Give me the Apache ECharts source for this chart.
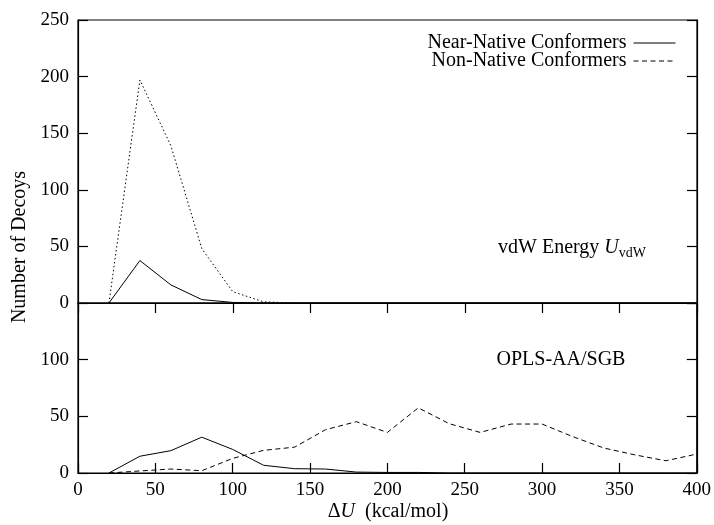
<!DOCTYPE html>
<html>
<head>
<meta charset="utf-8">
<script src="https://cdn.jsdelivr.net/npm/echarts@6/dist/echarts.min.js"></script>
<style>
  html, body { margin: 0; padding: 0; background: #fff; }
  #chart { width: 714px; height: 525px; }
</style>
</head>
<body>
<div id="chart"></div>
<script>
// Energy bins (kcal/mol)
const energies = [20, 40, 60, 80, 100, 120, 140, 160, 180, 200, 220, 240, 260, 280, 300, 320, 340, 360, 380, 400];

// Upper panel: van der Waals energy
const vdwNear    = [0, 37.5, 16, 3, 0.5, 0, 0, 0, 0, 0, 0, 0, 0, 0, 0, 0, 0, 0, 0, 0];
const vdwNonNat  = [0, 197, 139, 48, 10, 1, 0, 0, 0, 0, 0, 0, 0, 0, 0, 0, 0, 0, 0, 0];

// Lower panel: OPLS-AA/SGB energy
const oplsNear   = [0, 14.8, 19.7, 31.6, 20.8, 6.8, 3.8, 3.5, 0.8, 0.5, 0.5, 0, 0, 0, 0, 0, 0, 0, 0, 0];
const oplsNonNat = [0, 1.8, 3.5, 2, 12.9, 20, 22.8, 38.2, 45.3, 35.8, 57.5, 43.5, 35.8, 43.2, 43.2, 32, 22, 16, 10.8, 16.7];

const xTicks = [0, 50, 100, 150, 200, 250, 300, 350, 400];
const yTicksTop = [0, 50, 100, 150, 200, 250];
const yTicksBottom = [0, 50, 100, 150];

const FONT = 'Liberation Serif';
const pairs = (ys) => energies.map((x, i) => [x, ys[i]]);

const chart = echarts.init(document.getElementById('chart'), null, { renderer: 'canvas' });

const frame = { show: true, borderColor: '#000', borderWidth: 1.2, backgroundColor: 'transparent' };
const tick = { show: true, inside: true, length: 10, lineStyle: { color: '#000', width: 1.2 } };
const line = { show: true, lineStyle: { color: '#000', width: 1.2 } };
const label = { color: '#000', fontFamily: FONT, fontSize: 19 };
const clear = 'rgba(0,0,0,0)';

function xAxis(gridIndex, pos, showLabel) {
  return {
    type: 'value', gridIndex, position: pos,
    min: xTicks[0], max: xTicks[xTicks.length - 1], interval: xTicks[1] - xTicks[0],
    axisLine: line, axisTick: tick, splitLine: { show: false },
    axisLabel: Object.assign({ show: showLabel, margin: 8 }, label)
  };
}
function yAxis(gridIndex, pos, ticks, showLabel, showMax) {
  return {
    type: 'value', gridIndex, position: pos,
    min: ticks[0], max: ticks[ticks.length - 1], interval: ticks[1] - ticks[0],
    axisLine: line, axisTick: tick, splitLine: { show: false },
    axisLabel: Object.assign({ show: showLabel, margin: 9, showMaxLabel: showMax }, label)
  };
}

const option = {
  animation: false,
  backgroundColor: '#fff',
  grid: [
    Object.assign({ left: 78, right: 17, top: 20, height: 283 }, frame),
    Object.assign({ left: 78, right: 17, top: 303, height: 170 }, frame)
  ],
  xAxis: [
    xAxis(0, 'top', false),
    xAxis(1, 'bottom', true)
  ],
  yAxis: [
    yAxis(0, 'left', yTicksTop, true, true),
    yAxis(1, 'left', yTicksBottom, true, false),
    yAxis(0, 'right', yTicksTop, false, true),
    yAxis(1, 'right', yTicksBottom, false, false)
  ],
  legend: {
    data: ['Near-Native Conformers', 'Non-Native Conformers'],
    orient: 'vertical',
    right: 33,
    top: 28,
    align: 'right',
    itemWidth: 42,
    itemHeight: 10,
    itemGap: -2,
    selectedMode: false,
    lineStyle: { width: 1 },
    textStyle: { color: '#000', fontFamily: FONT, fontSize: 20, lineHeight: 18, padding: [0, 2, 0, 0] }
  },
  graphic: [
    {
      type: 'text', x: 20, y: 247, rotation: Math.PI / 2,
      style: { text: 'Number of Decoys', fontFamily: FONT, fontSize: 20, fill: '#000', align: 'center', verticalAlign: 'middle' }
    },
    {
      type: 'text', x: 388, y: 512,
      style: {
        text: '{n|\u0394}{i|U}{n|  (kcal/mol)}',
        align: 'center', verticalAlign: 'middle',
        rich: {
          n: { fontFamily: FONT, fontSize: 20, fill: '#000' },
          i: { fontFamily: FONT, fontSize: 20, fontStyle: 'italic', fill: '#000' }
        }
      }
    },
    {
      type: 'text', x: 572, y: 248,
      style: {
        text: '{n|vdW Energy }{i|U}{s|vdW}',
        align: 'center', verticalAlign: 'middle',
        rich: {
          n: { fontFamily: FONT, fontSize: 20, fill: '#000' },
          i: { fontFamily: FONT, fontSize: 20, fontStyle: 'italic', fill: '#000' },
          s: { fontFamily: FONT, fontSize: 14, fill: '#000', padding: [10, 0, 0, 0] }
        }
      }
    },
    {
      type: 'text', x: 561, y: 360,
      style: { text: 'OPLS-AA/SGB', fontFamily: FONT, fontSize: 20, fill: '#000', align: 'center', verticalAlign: 'middle' }
    }
  ],
  series: [
    {
      name: 'Near-Native Conformers', type: 'line', xAxisIndex: 1, yAxisIndex: 1,
      data: pairs(oplsNear), symbol: 'none', z: 3,
      lineStyle: { color: '#000', width: 1, type: 'solid' }, itemStyle: { color: clear }
    },
    {
      name: 'Non-Native Conformers', type: 'line', xAxisIndex: 1, yAxisIndex: 1,
      data: pairs(oplsNonNat), symbol: 'none', z: 3,
      lineStyle: { color: '#000', width: 1, type: [5, 3.5] }, itemStyle: { color: clear }
    },
    {
      name: 'Near-Native (vdW)', type: 'line', xAxisIndex: 0, yAxisIndex: 0,
      data: pairs(vdwNear), symbol: 'none', z: 3,
      lineStyle: { color: '#000', width: 1, type: 'solid' }, itemStyle: { color: clear }
    },
    {
      name: 'Non-Native (vdW)', type: 'line', xAxisIndex: 0, yAxisIndex: 0,
      data: pairs(vdwNonNat), symbol: 'none', z: 3,
      lineStyle: { color: '#000', width: 1, type: [1.5, 2.5] }, itemStyle: { color: clear }
    }
  ]
};

chart.setOption(option);
</script>
</body>
</html>
